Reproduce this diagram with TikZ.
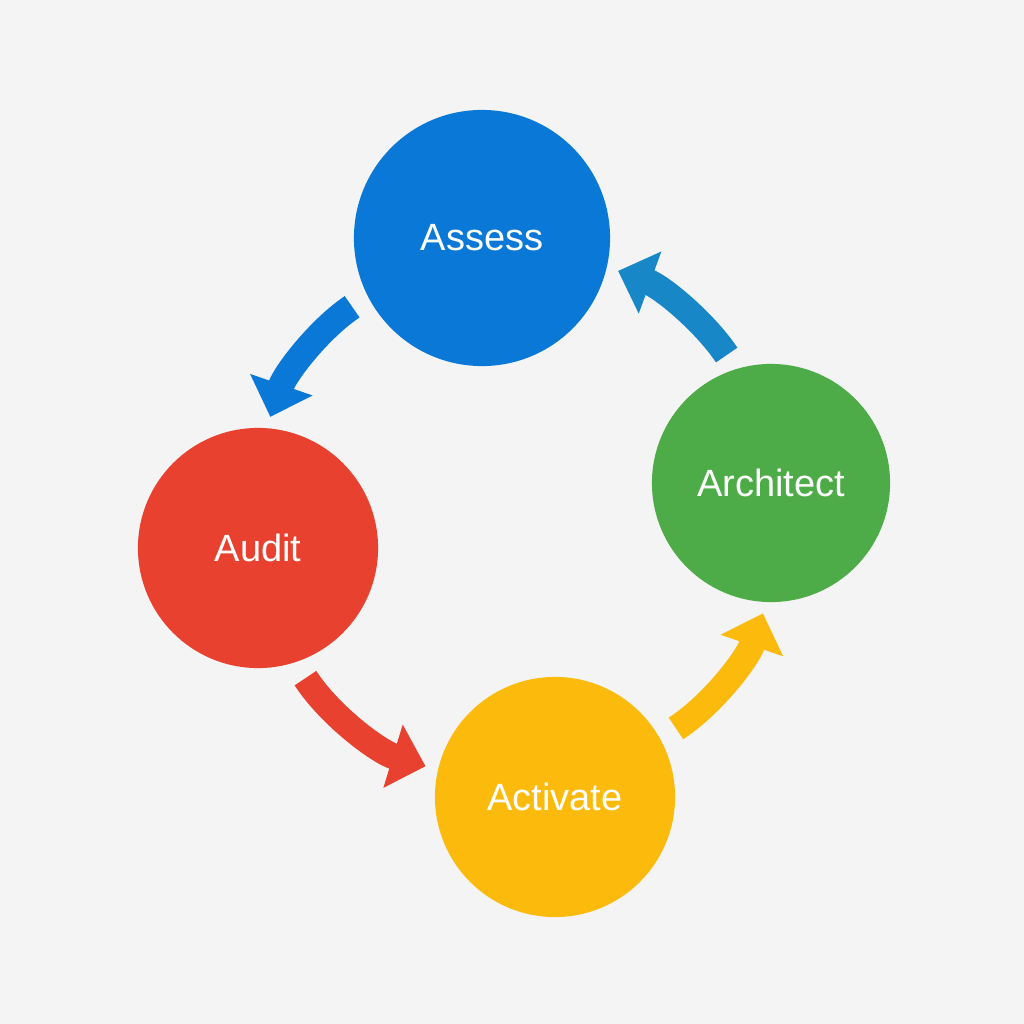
\documentclass[tikz,border=0pt]{standalone}
\usepackage{fontspec}
\setmainfont{Liberation Sans}
\usetikzlibrary{arrows.meta}

\definecolor{bgcol}{HTML}{F4F4F4}
\definecolor{assesscol}{HTML}{0A78D7}
\definecolor{auditcol}{HTML}{E8412F}
\definecolor{activatecol}{HTML}{FBBA0C}
\definecolor{architectcol}{HTML}{4DAC47}
\definecolor{returncol}{HTML}{1787C8}

\begin{document}
\begin{tikzpicture}[
        x=0.01cm, y=-0.01cm,
        stage node/.style={circle, draw=none, inner sep=0pt, outer sep=0pt,
            text=white, font=\fontsize{10.8}{13}\selectfont},
        flow arrow/.style={line width=0.26cm, looseness=0.9,
            -{Triangle[length=0.34cm, width=0.64cm]}},
    ]

    \fill[bgcol] (0,0) rectangle (1024,1024);

    \node[stage node, fill=assesscol, minimum size=2.56cm] (assess) at (482,238) {Assess};
    \node[stage node, fill=auditcol, minimum size=2.40cm] (audit) at (258,548) {Audit};
    \node[stage node, fill=activatecol, minimum size=2.40cm] (activate) at (555,797) {Activate};
    \node[stage node, fill=architectcol, minimum size=2.38cm] (architect) at (771,483) {Architect};

    \draw[flow arrow, assesscol, shorten <=0.19cm, shorten >=0.12cm]
        (assess.207) to[out=214, in=71] (audit.86);
    \draw[flow arrow, auditcol, shorten <=0.19cm, shorten >=0.13cm]
        (audit.288) to[out=303, in=163] (activate.167);
    \draw[flow arrow, activatecol, shorten <=0.19cm, shorten >=0.12cm]
        (activate.29) to[out=33, in=251] (architect.268);
    \draw[flow arrow, returncol, shorten <=0.17cm, shorten >=0.12cm]
        (architect.107) to[out=124, in=340] (assess.347);
\end{tikzpicture}
\end{document}
